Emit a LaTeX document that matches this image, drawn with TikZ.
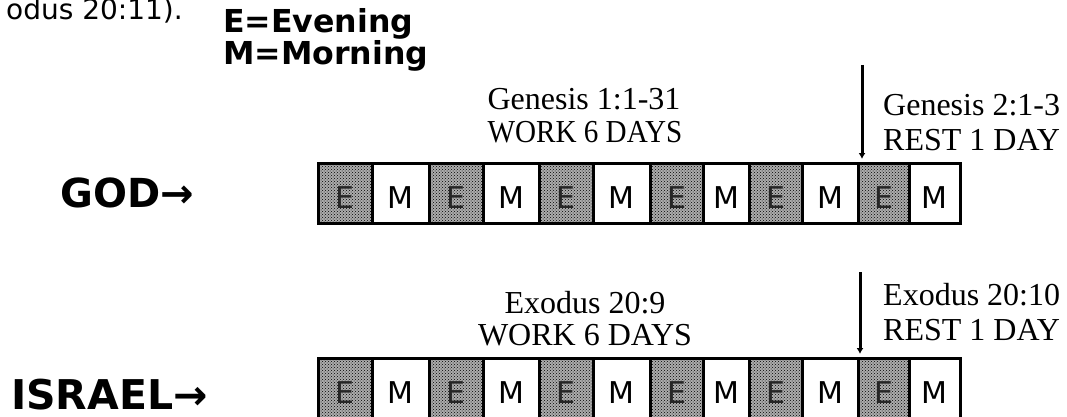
\documentclass[tikz,border=0pt]{standalone}
\usepackage{fontspec}
\setmainfont{Liberation Serif}
\newfontfamily\sabsans{DejaVu Sans}
\usetikzlibrary{arrows.meta, positioning, patterns}
\tikzset{
    >=Latex,
    sab_cell/.style={
        rectangle,
        draw=black,
        line width=3pt,
        outer sep=0pt,
        inner sep=0pt,
        minimum height=60pt,
        text height=31pt,
        font=\sabsans\fontsize{30}{30}\selectfont
    },
    sab_even/.style={
        sab_cell,
        preaction={fill=gray!65},
        pattern=crosshatch dots,
        pattern color=black,
        text=black!85
    },
    sab_morn/.style={
        sab_cell,
        fill=white
    },
    sab_who/.style={
        inner sep=0pt,
        anchor=base west,
        font=\sabsans\bfseries\fontsize{40}{40}\selectfont
    },
    sab_key/.style={
        inner sep=0pt,
        anchor=base west,
        font=\sabsans\bfseries\fontsize{31.6}{32}\selectfont
    },
    sab_ref/.style={
        inner sep=0pt,
        anchor=base,
        font=\fontsize{32}{32}\selectfont
    },
    sab_arrow/.style={
        -{Latex[length=6pt, width=7pt]},
        line width=3pt,
        shorten >=4pt
    }
}

\begin{document}
\begin{tikzpicture}[x=1pt, y=-1pt]
\clip (0,0) rectangle (1067,417);

\node[inner sep=0pt, anchor=base east, font=\sabsans\fontsize{28}{28}\selectfont] (prev) at (183,20) {odus 20:11).};
\node[sab_key] (keyE) at (223,33) {E=Evening};
\node[sab_key] (keyM) at (223,65) {M=Morning};

% God's week
\node[sab_ref] (gwork) at (584,110) {Genesis 1:1-31};
\node[sab_ref] (gworkdays) at (585,142) {\scalebox{0.91}[1]{WORK 6 DAYS}};
\node[sab_ref, anchor=base west] (grest) at (883,115) {Genesis 2:1-3};
\node[sab_ref, anchor=base west] (grestdays) at (883,150) {REST 1 DAY};

\node[sab_who] (god) at (60,207) {GOD→};

\node[sab_even, minimum width=54pt, anchor=north west] (g1) at (318,163) {E};
\node[sab_morn, minimum width=57pt, right=0pt of g1] (g2) {M};
\node[sab_even, minimum width=54pt, right=0pt of g2] (g3) {E};
\node[sab_morn, minimum width=56pt, right=0pt of g3] (g4) {M};
\node[sab_even, minimum width=54pt, right=0pt of g4] (g5) {E};
\node[sab_morn, minimum width=57pt, right=0pt of g5] (g6) {M};
\node[sab_even, minimum width=53pt, right=0pt of g6] (g7) {E};
\node[sab_morn, minimum width=46pt, right=0pt of g7] (g8) {M};
\node[sab_even, minimum width=53pt, right=0pt of g8] (g9) {E};
\node[sab_morn, minimum width=56pt, right=0pt of g9] (g10) {M};
\node[sab_even, minimum width=51pt, right=0pt of g10] (g11) {E};
\node[sab_morn, minimum width=51pt, right=0pt of g11] (g12) {M};

\coordinate (gmark) at (862,65);
\draw[sab_arrow] (gmark) -- (gmark |- g11.north);

% Israel's week
\node[sab_ref] (iwork) at (585,313) {Exodus 20:9};
\node[sab_ref] (iworkdays) at (585,345) {WORK 6 DAYS};
\node[sab_ref, anchor=base west] (irest) at (883,305) {Exodus 20:10};
\node[sab_ref, anchor=base west] (irestdays) at (883,340) {REST 1 DAY};

\node[sab_who, font=\sabsans\bfseries\fontsize{41}{41}\selectfont] (israel) at (11,409) {ISRAEL→};

\node[sab_even, minimum width=54pt, anchor=north west] (i1) at (318,358) {E};
\node[sab_morn, minimum width=57pt, right=0pt of i1] (i2) {M};
\node[sab_even, minimum width=54pt, right=0pt of i2] (i3) {E};
\node[sab_morn, minimum width=56pt, right=0pt of i3] (i4) {M};
\node[sab_even, minimum width=54pt, right=0pt of i4] (i5) {E};
\node[sab_morn, minimum width=57pt, right=0pt of i5] (i6) {M};
\node[sab_even, minimum width=53pt, right=0pt of i6] (i7) {E};
\node[sab_morn, minimum width=46pt, right=0pt of i7] (i8) {M};
\node[sab_even, minimum width=53pt, right=0pt of i8] (i9) {E};
\node[sab_morn, minimum width=56pt, right=0pt of i9] (i10) {M};
\node[sab_even, minimum width=51pt, right=0pt of i10] (i11) {E};
\node[sab_morn, minimum width=51pt, right=0pt of i11] (i12) {M};

\coordinate (imark) at (860,272);
\draw[sab_arrow] (imark) -- (imark |- i11.north);

\end{tikzpicture}
\end{document}
